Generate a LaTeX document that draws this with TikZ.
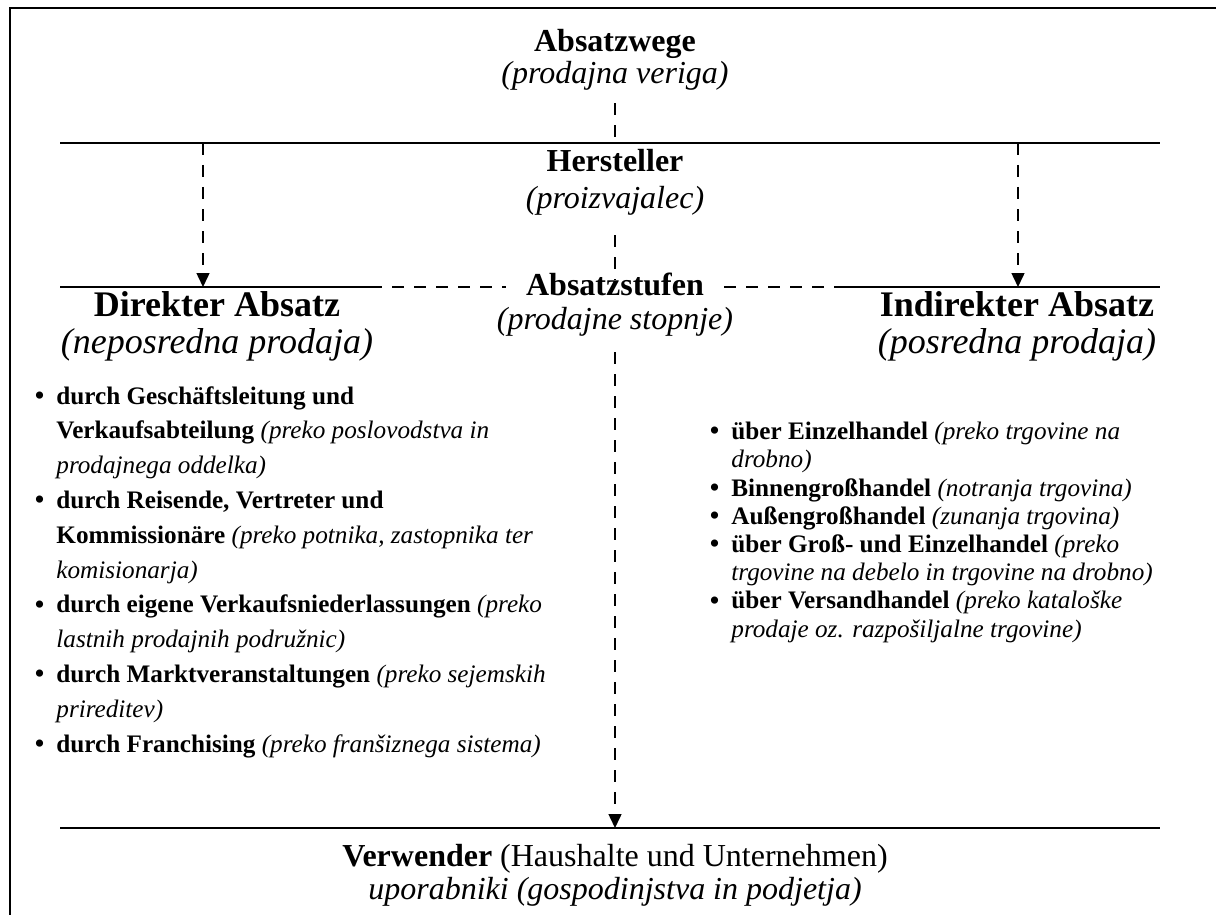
\documentclass[tikz,border=0pt]{standalone}
\usepackage{fontspec}
\setmainfont{Liberation Serif}
\usetikzlibrary{arrows.meta}
\newcommand{\titletext}{\fontsize{16}{19}\selectfont}
\newcommand{\sidetext}{\fontsize{18}{21}\selectfont}
\newcommand{\leftlisttext}{\fontsize{12.6}{17.4}\selectfont}
\newcommand{\rightlisttext}{\fontsize{12.6}{14.1}\selectfont}
\newcommand{\bul}{\makebox[12pt][l]{\hspace{1pt}\raisebox{-0.6pt}{\fontsize{15}{12}\selectfont\textbullet}}}
\newcommand{\ind}{\hspace*{12pt}}
\tikzset{
  rule/.style={line width=1.2pt},
  frameline/.style={line width=1pt},
  dashline/.style={line width=0.75pt,dash pattern=on 6pt off 5pt},
  dasharrow/.style={dashline,-{Triangle[width=6.5pt,length=7pt]}},
  head/.style={font=\titletext,inner sep=0pt,anchor=base},
  side/.style={font=\sidetext,inner sep=0pt,anchor=base},
  listbox/.style={inner sep=0pt,anchor=base west,align=left}
}

\begin{document}
\begin{tikzpicture}[x=0.5pt,y=-0.5pt]
\useasboundingbox (0,0) rectangle (1216,915);
\draw[frameline] (9.5,940) -- (9.5,8) -- (1240,8);

% headings
\node[head] (wege) at (615,52) {\textbf{Absatzwege}};
\node[head] (wegesub) at (615,84) {\textit{(prodajna veriga)}};
\node[head] (herst) at (615,171) {\textbf{Hersteller}};
\node[head] (herstsub) at (615,208) {\textit{(proizvajalec)}};
\node[head,inner xsep=10pt] (stufen) at (615,295) {\textbf{Absatzstufen}};
\node[head] (stufensub) at (615,329) {\textit{(prodajne stopnje)}};
\node[side] (direkt) at (217,316) {\textbf{Direkter Absatz}};
\node[side] (direktsub) at (217,353) {\textit{(neposredna prodaja)}};
\node[side] (indirekt) at (1017,316) {\textbf{Indirekter Absatz}};
\node[side] (indirektsub) at (1017,353) {\textit{(posredna prodaja)}};
\node[head] (verw) at (615,866) {\textbf{Verwender} (Haushalte und Unternehmen)};
\node[head] (verwsub) at (615,899) {\textit{uporabniki (gospodinjstva in podjetja)}};

% lists (anchored at the baseline of the last line)
\node[listbox,font=\leftlisttext] (dlist) at (32,752) {%
\bul\textbf{durch Geschäftsleitung und}\\
\ind\textbf{Verkaufsabteilung} \textit{(preko poslovodstva in}\\
\ind\textit{prodajnega oddelka)}\\
\bul\textbf{durch Reisende, Vertreter und}\\
\ind\textbf{Kommissionäre} \textit{(preko potnika, zastopnika ter}\\
\ind\textit{komisionarja)}\\
\bul\textbf{durch eigene Verkaufsniederlassungen} \textit{(preko}\\
\ind\textit{lastnih prodajnih podružnic)}\\
\bul\textbf{durch Marktveranstaltungen} \textit{(preko sejemskih}\\
\ind\textit{prireditev)}\\
\bul\textbf{durch Franchising} \textit{(preko franšiznega sistema)}};
\node[listbox,font=\rightlisttext] (ilist) at (707,637) {%
\bul\textbf{über Einzelhandel} \textit{(preko trgovine na}\\
\ind\textit{drobno)}\\
\bul\textbf{Binnengroßhandel} \textit{(notranja trgovina)}\\
\bul\textbf{Außengroßhandel} \textit{(zunanja trgovina)}\\
\bul\textbf{über Groß- und Einzelhandel} \textit{(preko}\\
\ind\textit{trgovine na debelo in trgovine na drobno)}\\
\bul\textbf{über Versandhandel} \textit{(preko kataloške}\\
\ind\textit{prodaje oz. razpošiljalne trgovine)}};

% rules
\coordinate (top1w) at (60,143);
\coordinate (top1e) at (1160,143);
\coordinate (mid2w) at (60,287);
\coordinate (mid2a) at (370,287);
\coordinate (mid2b) at (840,287);
\coordinate (mid2e) at (1160,287);
\coordinate (bot3w) at (60,828);
\coordinate (bot3e) at (1160,828);
\draw[rule] (top1w) -- (top1e);
\draw[rule] (mid2w) -- (mid2a);
\draw[rule] (mid2b) -- (mid2e);
\draw[rule] (bot3w) -- (bot3e);
\draw[dashline] (mid2a) -- (stufen.west |- mid2a);
\draw[dashline] (stufen.east |- mid2b) -- (mid2b);

% connectors
\coordinate (wegeend) at (615,143);
\coordinate (dtop) at (203,143);
\coordinate (dbot) at (203,287);
\coordinate (itop) at (1018,143);
\coordinate (ibot) at (1018,287);
\coordinate (herstend) at (615,280);
\coordinate (stufenstart) at (615,352);
\coordinate (verwtop) at (615,828);
\draw[dashline] ([yshift=-6pt]wegesub.south) -- (wegeend);
\draw[dashline] ([yshift=-10pt]herstsub.south) -- (herstend);
\draw[dasharrow] (dtop) -- (dbot);
\draw[dasharrow] (itop) -- (ibot);
\draw[dasharrow] (stufenstart) -- (verwtop);
\end{tikzpicture}
\end{document}
